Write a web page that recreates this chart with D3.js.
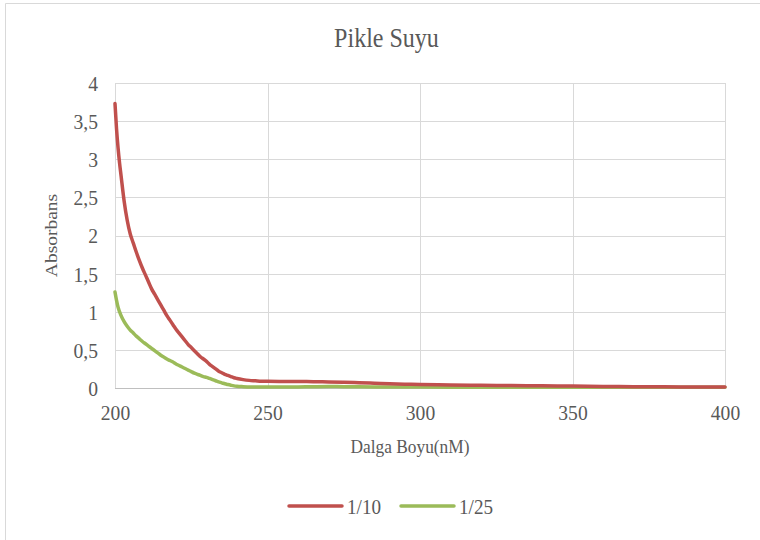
<!DOCTYPE html>
<html lang="tr">
<head>
    <meta charset="UTF-8">
    <title>Pikle Suyu</title>
    <script src="https://cdn.jsdelivr.net/npm/d3@7/dist/d3.min.js"></script>
    <style>
        body { margin: 0; background: #fff; }
        text { font-family: "Liberation Serif", "Times New Roman", serif; fill: #595959; }
    </style>
</head>
<body>
    <svg width="760" height="540" id="chart"></svg>
    <script>
        // data
        const wlRed = [200, 200.5, 201, 201.5, 202, 203, 204, 205, 206, 207, 208, 209, 210, 211, 212, 213, 214, 215,
            216, 217, 218, 219, 220, 221, 222, 223, 224, 225, 226, 227, 228, 229, 230, 231, 232, 233, 234, 235,
            236, 237, 238, 239, 240, 242, 244, 246, 248, 250, 255, 260, 265, 270, 275, 280, 285, 290, 295, 300,
            310, 320, 330, 340, 350, 360, 370, 380, 390, 400];
        const absRed = [3.73, 3.4, 3.15, 2.95, 2.78, 2.45, 2.2, 2.02, 1.9, 1.78, 1.67, 1.57, 1.48, 1.39, 1.3, 1.23, 1.16, 1.09,
            1.02, 0.95, 0.89, 0.83, 0.77, 0.72, 0.67, 0.62, 0.57, 0.53, 0.49, 0.45, 0.41, 0.38, 0.35, 0.31, 0.28, 0.25, 0.22, 0.2,
            0.18, 0.165, 0.15, 0.135, 0.125, 0.11, 0.1, 0.095, 0.09, 0.088, 0.086, 0.085, 0.083, 0.08, 0.076, 0.07, 0.063, 0.055, 0.05, 0.045,
            0.04, 0.035, 0.032, 0.028, 0.025, 0.021, 0.018, 0.015, 0.013, 0.012];

        const wlGreen = [200, 200.5, 201, 202, 203, 204, 205, 206, 207, 208, 209, 210, 211, 212, 213, 214, 215, 216, 217,
            218, 219, 220, 221, 222, 223, 224, 225, 226, 227, 228, 229, 230, 231, 232, 233, 234, 235, 236, 237, 238,
            239, 240, 242, 245, 250, 255, 260, 265, 270, 275, 280, 290, 300, 320, 340, 360, 380, 400];
        const absGreen = [1.26, 1.15, 1.06, 0.95, 0.87, 0.81, 0.76, 0.72, 0.68, 0.645, 0.61, 0.58, 0.55, 0.52, 0.49, 0.46, 0.43, 0.405, 0.38,
            0.36, 0.34, 0.315, 0.295, 0.275, 0.255, 0.235, 0.215, 0.195, 0.18, 0.165, 0.15, 0.14, 0.125, 0.11, 0.095, 0.08, 0.068, 0.055, 0.045, 0.036,
            0.028, 0.023, 0.018, 0.014, 0.012, 0.012, 0.014, 0.017, 0.019, 0.018, 0.015, 0.013, 0.012, 0.011, 0.01, 0.01, 0.01, 0.01];

        const seriesNames = ["1/10", "1/25"];
        const seriesColors = ["#C0504D", "#9BBB59"];

        const xTicks = [200, 250, 300, 350, 400];
        const yTicks = [0, 0.5, 1, 1.5, 2, 2.5, 3, 3.5, 4];
        const yTickLabels = ["0", "0,5", "1", "1,5", "2", "2,5", "3", "3,5", "4"];

        const serif = '"Liberation Serif", "Times New Roman", serif';
        const svg = d3.select("#chart");
        const plot = {left: 115, right: 725, top: 83, bottom: 388};
        const sx = 0.89; // the picture's glyphs are a little narrow

        const x = d3.scaleLinear().domain([200, 400]).range([plot.left, plot.right]);
        const y = d3.scaleLinear().domain([0, 4]).range([plot.bottom, plot.top]);

        // chart frame (cut off on the right and bottom)
        svg.append("path")
            .attr("d", "M5.5,545V3.5H765")
            .attr("fill", "none")
            .attr("stroke", "#d9d9d9")
            .attr("stroke-width", 1);

        function label(px, py, str, size, anchor, rot) {
            const g = svg.append("g")
                .attr("transform", `translate(${px},${py}) scale(${sx},1)` + (rot ? ` rotate(${rot})` : ""));
            g.append("text")
                .attr("text-anchor", anchor)
                .style("font-family", serif)
                .style("font-size", size + "px")
                .text(str);
            return g;
        }

        // grid
        svg.append("g").selectAll("line")
            .data(yTicks).enter().append("line")
            .attr("x1", plot.left).attr("x2", plot.right)
            .attr("y1", d => Math.round(y(d)) + 0.5).attr("y2", d => Math.round(y(d)) + 0.5)
            .attr("stroke", d => d === 0 ? "#bfbfbf" : "#d9d9d9");
        svg.append("g").selectAll("line")
            .data(xTicks).enter().append("line")
            .attr("x1", d => Math.round(x(d)) + 0.5).attr("x2", d => Math.round(x(d)) + 0.5)
            .attr("y1", plot.top).attr("y2", plot.bottom)
            .attr("stroke", "#d9d9d9");

        // axes, labels only
        const xAxis = d3.axisBottom(x).tickValues(xTicks).tickSize(0).tickFormat(d3.format("d"));
        const xAxisG = svg.append("g")
            .attr("transform", `translate(0,${plot.bottom})`)
            .call(xAxis);
        xAxisG.select(".domain").remove();
        xAxisG.selectAll("text")
            .attr("y", 32).attr("dy", 0)
            .attr("transform", `scale(${sx},1)`);

        const yAxis = d3.axisLeft(y).tickValues(yTicks).tickSize(0)
            .tickFormat((d, i) => yTickLabels[i]);
        const yAxisG = svg.append("g")
            .attr("transform", `translate(${plot.left},0)`)
            .call(yAxis);
        yAxisG.select(".domain").remove();
        yAxisG.selectAll("text")
            .attr("x", -17 / sx).attr("dy", "0.34em")
            .attr("transform", `scale(${sx},1)`);

        svg.selectAll(".tick text")
            .attr("fill", "#595959")
            .style("font-family", serif)
            .style("font-size", "22px");

        // series
        const line = d3.line()
            .x(d => x(d[0]))
            .y(d => y(d[1]))
            .curve(d3.curveMonotoneX);

        const series = [
            d3.zip(wlRed, absRed),
            d3.zip(wlGreen, absGreen)
        ];

        svg.append("g").selectAll("path")
            .data([1, 0]).enter().append("path")
            .attr("d", i => line(series[i]))
            .attr("fill", "none")
            .attr("stroke", i => seriesColors[i])
            .attr("stroke-width", 3.5)
            .attr("stroke-linejoin", "round")
            .attr("stroke-linecap", "round");

        // titles
        label(386.5, 47, "Pikle Suyu", 27, "middle");
        label(410, 453, "Dalga Boyu(nM)", 19.5, "middle");
        label(57, 235.5, "Absorbans", 19.5, "middle", -90);

        // legend
        const legendX = [289, 401];
        const legend = svg.selectAll(".legend")
            .data(seriesNames).enter().append("g")
            .attr("class", "legend")
            .attr("transform", (d, i) => `translate(${legendX[i]},506)`);
        legend.append("line")
            .attr("x1", 0).attr("x2", 53)
            .attr("stroke", (d, i) => seriesColors[i])
            .attr("stroke-width", 3.5)
            .attr("stroke-linecap", "round");
        legend.append("text")
            .attr("x", 58 / sx).attr("y", 7.5)
            .attr("transform", `scale(${sx},1)`)
            .style("font-family", serif)
            .style("font-size", "21.5px")
            .text(d => d);
    </script>
</body>
</html>
